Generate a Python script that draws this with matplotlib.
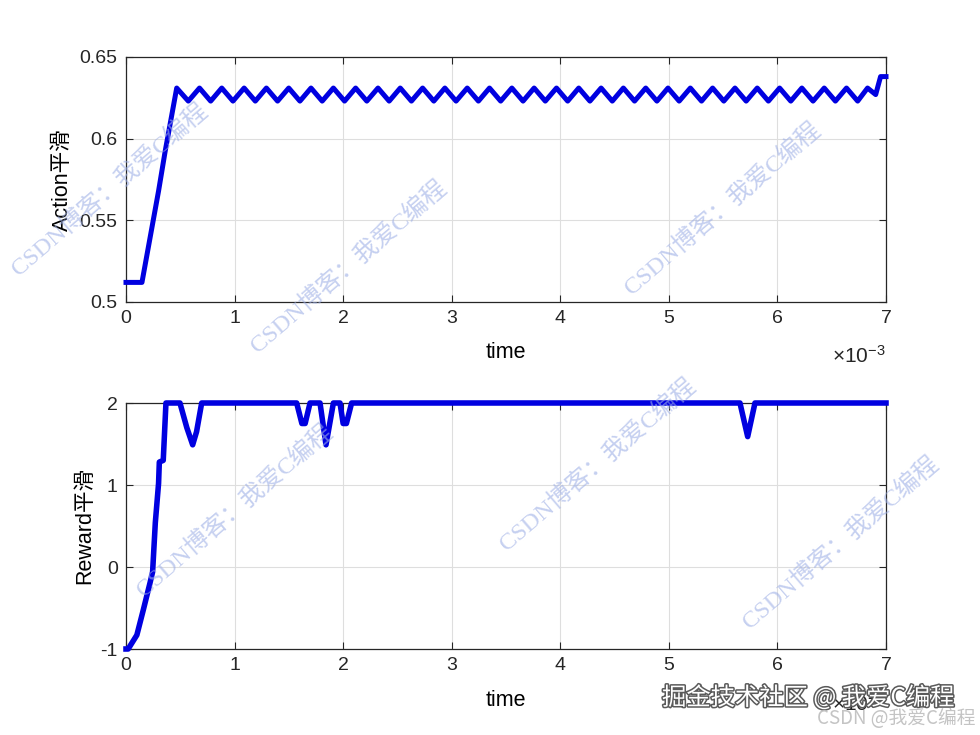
import matplotlib
matplotlib.use("Agg")
import matplotlib.pyplot as plt
import matplotlib.patheffects as pe

# time axis in units of 1e-3 s
action_t = [0, 0.147, 0.300, 0.360, 0.467,
            0.574, 0.677, 0.780, 0.882, 0.985, 1.088, 1.191, 1.293, 1.396, 1.499,
            1.602, 1.704, 1.807, 1.910, 2.013, 2.115, 2.218, 2.321, 2.424, 2.526,
            2.629, 2.732, 2.835, 2.937, 3.040, 3.143, 3.246, 3.348, 3.451, 3.554,
            3.657, 3.759, 3.862, 3.965, 4.068, 4.170, 4.273, 4.376, 4.479, 4.581,
            4.684, 4.787, 4.890, 4.992, 5.095, 5.198, 5.301, 5.403, 5.506, 5.609,
            5.712, 5.814, 5.917, 6.020, 6.123, 6.225, 6.328, 6.431, 6.534, 6.636,
            6.739, 6.830, 6.905, 6.950, 7.000]
action_v = [0.512, 0.512, 0.568, 0.592, 0.631,
            0.623, 0.631, 0.623, 0.631, 0.623, 0.631, 0.623, 0.631, 0.623, 0.631,
            0.623, 0.631, 0.623, 0.631, 0.623, 0.631, 0.623, 0.631, 0.623, 0.631,
            0.623, 0.631, 0.623, 0.631, 0.623, 0.631, 0.623, 0.631, 0.623, 0.631,
            0.623, 0.631, 0.623, 0.631, 0.623, 0.631, 0.623, 0.631, 0.623, 0.631,
            0.623, 0.631, 0.623, 0.631, 0.623, 0.631, 0.623, 0.631, 0.623, 0.631,
            0.623, 0.631, 0.623, 0.631, 0.623, 0.631, 0.623, 0.631, 0.623, 0.631,
            0.623, 0.631, 0.627, 0.638, 0.638]

reward_t = [0, 0.02, 0.10, 0.16, 0.22, 0.245, 0.27, 0.30, 0.307, 0.343, 0.368,
            0.497, 0.56, 0.614, 0.65, 0.697, 1.572, 1.620, 1.650, 1.695, 1.787,
            1.842, 1.910, 1.971, 2.000, 2.030, 2.078, 5.655, 5.726, 5.793, 7.000]
reward_v = [-1.0, -1.0, -0.83, -0.52, -0.20, -0.06, 0.54, 1.02, 1.28, 1.30, 2.0,
            2.0, 1.70, 1.49, 1.65, 2.0, 2.0, 1.75, 1.75, 2.0, 2.0,
            1.49, 2.0, 2.0, 1.75, 1.75, 2.0, 2.0, 1.59, 2.0, 2.0]

xticks = [0, 1, 2, 3, 4, 5, 6, 7]
action_ticks = [0.5, 0.55, 0.6, 0.65]
action_ticklabels = ["0.5", "0.55", "0.6", "0.65"]
reward_ticks = [-1, 0, 1, 2]

BLUE = "#0000e0"
WM = "#9fb0e6"

plt.rcParams.update({
    "font.family": ["Liberation Sans", "Noto Sans CJK SC"],
    "axes.unicode_minus": False,
    "mathtext.fontset": "custom",
    "mathtext.rm": "Liberation Sans",
    "mathtext.it": "Liberation Sans",
})

fig = plt.figure(figsize=(9.8, 7.35), dpi=100)
ax1 = fig.add_axes([126 / 980, 1 - 302 / 735, 760 / 980, 245 / 735])
ax2 = fig.add_axes([126 / 980, 1 - 649 / 735, 760 / 980, 246 / 735])


def style(ax):
    ax.set_xlim(0, 7)
    ax.set_xticks(xticks)
    ax.grid(True, color="#dedede", lw=0.8)
    ax.set_axisbelow(True)
    ax.tick_params(direction="in", length=5, width=0.8, top=True, right=True,
                   labelsize=14, colors="#262626", pad=6)
    for s in ax.spines.values():
        s.set_linewidth(0.9)
        s.set_color("#262626")


ax1.plot(action_t, action_v, color=BLUE, lw=3.6, clip_on=False, zorder=3)
style(ax1)
ax1.set_ylim(0.5, 0.65)
ax1.set_yticks(action_ticks)
ax1.set_yticklabels(action_ticklabels)
ax1.set_xlabel("time", fontsize=15.5)
ax1.set_ylabel("Action平滑", fontsize=15.5)
ax1.xaxis.set_label_coords(0.5, -0.205)
ax1.xaxis.label.set_va("center")
ax1.yaxis.set_label_coords(-0.084, 0.5)
ax1.yaxis.label.set_va("center")

ax2.plot(reward_t, reward_v, color=BLUE, lw=4.0, clip_on=False, zorder=3)
style(ax2)
ax2.set_ylim(-1, 2)
ax2.set_yticks(reward_ticks)
ax2.set_xlabel("time", fontsize=15.5)
ax2.set_ylabel("Reward平滑", fontsize=15.5)
ax2.xaxis.set_label_coords(0.5, -0.21)
ax2.xaxis.label.set_va("center")
ax2.yaxis.set_label_coords(-0.054, 0.5)
ax2.yaxis.label.set_va("center")

# MATLAB-style exponent labels
fig.text(886 / 980, 1 - 356 / 735, r"$\times10^{-3}$", ha="right", va="center",
         fontsize=15, color="#262626")
fig.text(886 / 980, 1 - 704 / 735, r"$\times10^{-3}$", ha="right", va="center",
         fontsize=15, color="#262626")

# watermarks
for cx, cy in [(109, 190), (348, 267), (722, 209), (234, 511), (597, 465), (840, 543)]:
    fig.text(cx / 980, 1 - cy / 735, "CSDN博客：我爱C编程", rotation=40.7,
             ha="center", va="center", fontsize=17.5, color=WM, alpha=0.6,
             family=["Liberation Serif", "Noto Sans CJK SC"], zorder=10,
             rotation_mode="anchor")

fig.text(808 / 980, 1 - 698 / 735, "掘金技术社区 @ 我爱C编程", ha="center", va="center",
         fontsize=17.5, color="white", zorder=11,
         family=["Noto Sans CJK SC", "DejaVu Sans"],
         path_effects=[pe.withStroke(linewidth=2.2, foreground="#5a5a5a")])
fig.text(975 / 980, 1 - 718 / 735, "CSDN @我爱C编程", ha="right", va="center",
         fontsize=13.5, color="#c4c4c4", zorder=11,
         family=["Noto Sans CJK SC", "DejaVu Sans"])

fig.savefig("out.png", dpi=100)
